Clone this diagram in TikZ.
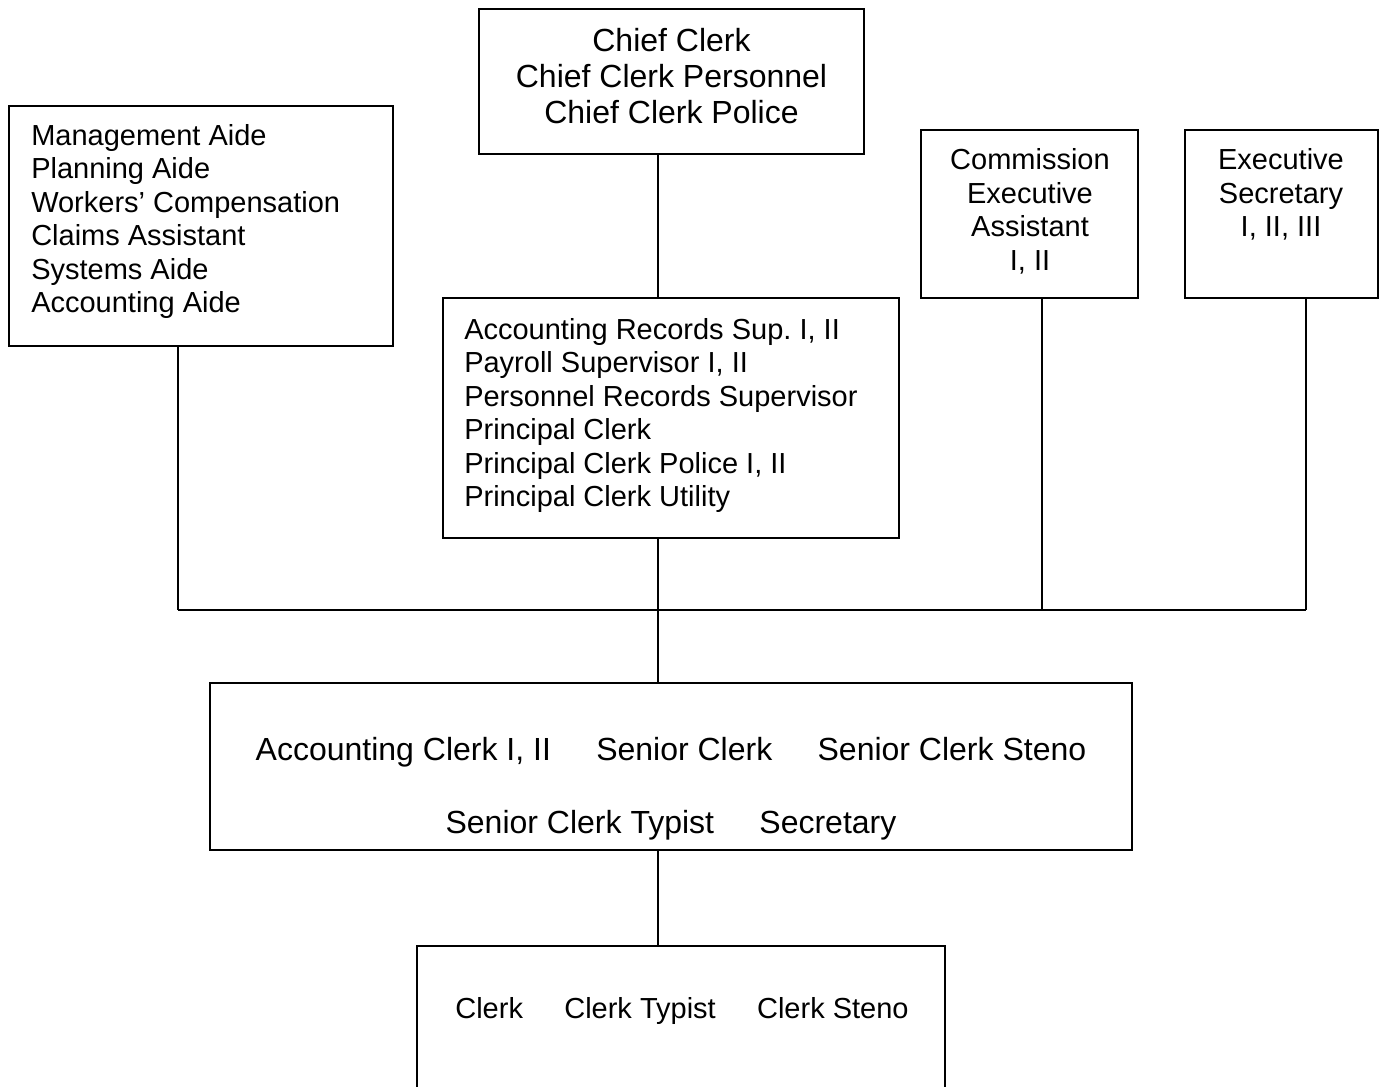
\documentclass[tikz,border=0pt]{standalone}
\usepackage{fontspec}
\setmainfont{Liberation Sans}
\usetikzlibrary{positioning}
\tikzset{
  box/.style    = {draw, line width=1.4pt, rectangle, inner sep=0pt},
  small/.style  = {font=\fontsize{21.75}{25.1}\selectfont, inner sep=0pt},
  large/.style  = {font=\fontsize{24}{27}\selectfont, inner sep=0pt},
  link/.style   = {draw, line width=1.4pt}
}

\begin{document}
\begin{tikzpicture}[x=0.75pt,y=-0.75pt]
	  \clip (0,0) rectangle (1385,1086);

	  % the boxes
	  \node[box, minimum width=288.75pt, minimum height=108.75pt] (chief)  at (671.5,81.5) {};
	  \node[box, minimum width=288pt,    minimum height=180pt]    (aides)  at (201,226) {};
	  \node[box, minimum width=342pt,    minimum height=180pt]    (sup)    at (671,418) {};
	  \node[box, minimum width=162.75pt, minimum height=126pt]    (comm)   at (1029.5,214) {};
	  \node[box, minimum width=144.75pt, minimum height=126pt]    (exec)   at (1281.5,214) {};
	  \node[box, minimum width=691.5pt,  minimum height=125.25pt] (clerks) at (671,766.5) {};
	  \node[box, minimum width=396pt,    minimum height=150pt]    (junior) at (681,1046) {};

	  % the texts inside them
	  \node[large, align=center, anchor=north] (chiefTxt) at (671.5,28.5)
	  {Chief Clerk\\Chief Clerk Personnel\\Chief Clerk Police};
	  \node[small, align=left, anchor=north west] (aidesTxt) at (31,124)
	  {Management Aide\\Planning Aide\\Workers’ Compensation\\Claims Assistant\\Systems Aide\\Accounting Aide};
	  \node[small, align=left, anchor=north west] (supTxt) at (464,318)
	  {Accounting Records Sup.\ I, II\\Payroll Supervisor I, II\\Personnel Records Supervisor\\Principal Clerk\\Principal Clerk Police I, II\\Principal Clerk Utility};
	  \node[small, align=center, anchor=north] (commTxt) at (1030,148.5)
	  {Commission\\Executive\\Assistant\\I, II};
	  \node[small, align=center, anchor=north] (execTxt) at (1281,148.5)
	  {Executive\\Secretary\\I, II, III};
	  \node[large, anchor=base] (clerksRow1) at (671,760.5)
	  {Accounting Clerk I, II\hspace{34pt}Senior Clerk\hspace{34pt}Senior Clerk Steno};
	  \node[large, anchor=base] (clerksRow2) at (671,833.5)
	  {Senior Clerk Typist\hspace{34pt}Secretary};
	  \node[small, anchor=base] (juniorTxt) at (682,1018)
	  {Clerk\hspace{31pt}Clerk Typist\hspace{31pt}Clerk Steno};

	  % bus line and its joints
	  \coordinate (busL) at (178,610);
	  \coordinate (hub)  at (658,610);
	  \coordinate (busC) at (1042,610);
	  \coordinate (busR) at (1306,610);

	  \draw[link] (busL) -- (busR);
	  \foreach \from/\to in {aides/busL, comm/busC, exec/busR}
		\draw[link] (\from.south -| \to) -- (\to);

	  % the spine down the middle
	  \draw[link] (chief.south -| hub) -- (sup.north -| hub);
	  \draw[link] (sup.south -| hub) -- (clerks.north -| hub);
	  \draw[link] (clerks.south -| hub) -- (junior.north -| hub);
\end{tikzpicture}
\end{document}
